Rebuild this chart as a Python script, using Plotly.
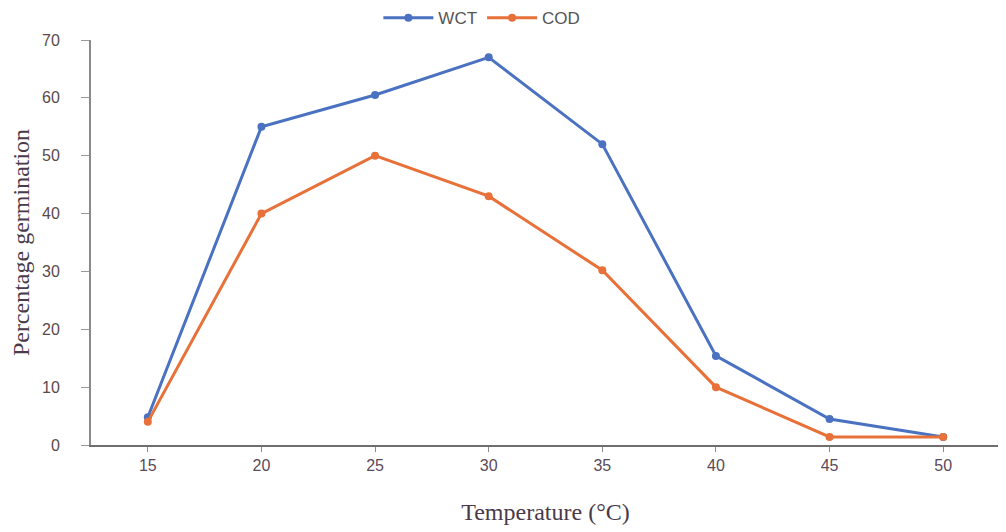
import plotly.graph_objects as go

temps = ["15", "20", "25", "30", "35", "40", "45", "50"]
wct = [4.8, 55, 60.5, 67, 52, 15.4, 4.5, 1.4]
cod = [4.0, 40, 50, 43, 30.2, 10, 1.4, 1.4]

fig = go.Figure()
fig.add_trace(go.Scatter(x=temps, y=wct, name="WCT", mode="lines+markers",
                         line=dict(color="#4a72c0", width=3),
                         marker=dict(color="#4a72c0", size=8)))
fig.add_trace(go.Scatter(x=temps, y=cod, name="COD", mode="lines+markers",
                         line=dict(color="#e8713a", width=3),
                         marker=dict(color="#e8713a", size=8)))

fig.update_layout(
    width=1006, height=532,
    margin=dict(l=83, r=14, t=32, b=95, autoexpand=False),
    paper_bgcolor="white", plot_bgcolor="white",
    showlegend=True,
    legend=dict(orientation="h", x=0.43, xanchor="center",
                yref="container", y=0.981, yanchor="middle",
                font=dict(family="Liberation Sans, Arial", size=17, color="#555555"),
                itemwidth=50),
    xaxis=dict(type="category", range=[-0.5, 7.5],
               showline=True, linecolor="#6e6e6e", linewidth=2,
               ticks="outside", ticklen=5, tickcolor="#8a8a8a",
               showgrid=False, zeroline=False,
               tickfont=dict(family="Liberation Sans, Arial", size=16, color="#5a4a5a"),
               title=dict(text="Temperature (°C)", standoff=30,
                          font=dict(family="Liberation Serif, Times New Roman", size=24, color="#4a3a4a"))),
    yaxis=dict(range=[0, 70], dtick=10,
               showline=True, linecolor="#8a8a8a", linewidth=2,
               ticks="outside", ticklen=8, tickcolor="#9a9a9a",
               showgrid=False, zeroline=False,
               ticklabelstandoff=18,
               tickfont=dict(family="Liberation Sans, Arial", size=16, color="#5a4a4a"),
               title=dict(text="Percentage germination", standoff=6,
                          font=dict(family="Liberation Serif, Times New Roman", size=24, color="#4a3a4a"))),
)

fig.write_html("out.html")
